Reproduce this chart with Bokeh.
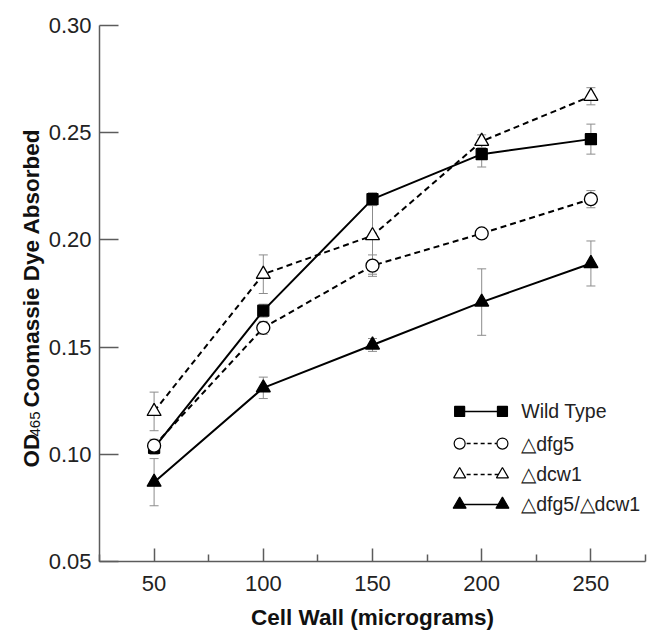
import math
from bokeh.plotting import figure
from bokeh.layouts import row
from bokeh.models import (Range1d, FixedTicker, Whisker, TeeHead, ColumnDataSource, Label,
                          CustomJSTickFormatter)
from bokeh.embed import file_html
from bokeh.resources import INLINE

# ---- data ----
cell_wall = [50, 100, 150, 200, 250]
wild_type = [0.103, 0.167, 0.219, 0.240, 0.247]
wild_type_err = [0.003, 0.003, 0.003, 0.006, 0.007]
dfg5 = [0.104, 0.159, 0.188, 0.203, 0.219]
dfg5_err = [0.003, 0.003, 0.005, 0.002, 0.004]
dcw1 = [0.120, 0.184, 0.202, 0.246, 0.267]
dcw1_err = [0.009, 0.009, 0.018, 0.003, 0.004]
dfg5_dcw1 = [0.087, 0.131, 0.151, 0.171, 0.189]
dfg5_dcw1_err = [0.011, 0.005, 0.003, 0.0155, 0.0105]

x_ticks = [50, 100, 150, 200, 250]
x_minor = [25, 75, 125, 175, 225, 275]
y_ticks = [0.05, 0.10, 0.15, 0.20, 0.25, 0.30]

legend_names = ["Wild Type", "\u25b3dfg5", "\u25b3dcw1", "\u25b3dfg5/\u25b3dcw1"]
y_label_parts = ["OD", "465", "Coomassie Dye Absorbed"]

FONT = "Liberation Sans"
W, H = 653, 638
STRIP = 45
TOP, BOTTOM = 25, 77
FRAME_BOTTOM = H - BOTTOM   # page y of the frame's bottom edge (frames are aligned in the row)

# ---- narrow strip holding the composed y-axis title ----
strip = figure(width=STRIP, height=H, output_backend="svg", toolbar_location=None,
               x_axis_type=None, y_axis_type=None, min_border=0,
               min_border_top=TOP, min_border_bottom=BOTTOM,
               x_range=Range1d(0, 1), y_range=Range1d(0, 1))
strip.outline_line_color = None
strip.grid.visible = False
ylab_common = dict(angle=math.pi / 2, text_font=FONT, text_color="#111111",
                   text_align="left", text_baseline="alphabetic",
                   x_units="screen", y_units="screen")
strip.add_layout(Label(x=31, y=FRAME_BOTTOM - 467, text=y_label_parts[0],
                       text_font_style="bold", text_font_size="22.5px", **ylab_common))
strip.add_layout(Label(x=34, y=FRAME_BOTTOM - 436, text=y_label_parts[1],
                       text_font_style="normal", text_font_size="15px", **ylab_common))
strip.add_layout(Label(x=31, y=FRAME_BOTTOM - 407, text=y_label_parts[2],
                       text_font_style="bold", text_font_size="22.5px", **ylab_common))

# ---- main plot ----
p = figure(width=W - STRIP, height=H, output_backend="svg", toolbar_location=None,
           x_range=Range1d(25, 275), y_range=Range1d(0.05, 0.30),
           min_border_left=96 - STRIP, min_border_right=8, min_border_top=TOP,
           min_border_bottom=BOTTOM)
p.outline_line_color = None
p.grid.visible = False
p.background_fill_color = "white"

AX = "#5c5c5c"
for ax in (p.xaxis[0], p.yaxis[0]):
    ax.axis_line_color = AX
    ax.axis_line_width = 1.5
    ax.major_tick_line_color = AX
    ax.minor_tick_line_color = AX
    ax.major_tick_line_width = 1.5
    ax.minor_tick_line_width = 1.5
    ax.major_label_text_font = FONT
    ax.major_label_text_font_size = "22px"
    ax.major_label_text_color = "#222222"
    ax.major_tick_out = 0
    ax.minor_tick_out = 0

p.xaxis.ticker = FixedTicker(ticks=x_ticks, minor_ticks=x_minor)
p.xaxis.major_tick_in = 13
p.xaxis.minor_tick_in = 7
p.xaxis.major_label_standoff = 14
p.xaxis.axis_label = "Cell Wall (micrograms)"
p.xaxis.axis_label_text_font = FONT
p.xaxis.axis_label_text_font_style = "bold"
p.xaxis.axis_label_text_font_size = "22.5px"
p.xaxis.axis_label_text_color = "#111111"
p.xaxis.axis_label_standoff = 11

p.yaxis.ticker = FixedTicker(ticks=y_ticks, minor_ticks=[])
p.yaxis.formatter = CustomJSTickFormatter(code="return tick.toFixed(2);")
p.yaxis.major_tick_in = 19
p.yaxis.minor_tick_in = 0
p.yaxis.major_label_standoff = 8

ERR = "#8c8c8c"
series = [
    ("dfg5_dcw1", dfg5_dcw1, dfg5_dcw1_err, "triangle", "black", "solid", 14),
    ("dcw1", dcw1, dcw1_err, "triangle", "white", "6 4", 14),
    ("wt", wild_type, wild_type_err, "square", "black", "solid", 11),
    ("dfg5", dfg5, dfg5_err, "circle", "white", "6 4", 13),
]

# error bars first
for name, ys, es, *_ in series:
    src = ColumnDataSource(dict(x=cell_wall,
                                lo=[a - b for a, b in zip(ys, es)],
                                hi=[a + b for a, b in zip(ys, es)]))
    w = Whisker(source=src, base="x", lower="lo", upper="hi",
                line_color=ERR, line_width=1,
                upper_head=TeeHead(size=9, line_color=ERR, line_width=1),
                lower_head=TeeHead(size=9, line_color=ERR, line_width=1))
    w.level = "underlay"
    p.add_layout(w)

for name, ys, es, marker, fill, dash, size in series:
    p.line(cell_wall, ys, line_color="black", line_width=2, line_dash=dash)
    p.scatter(cell_wall, ys, marker=marker, size=size, fill_color=fill,
              line_color="black", line_width=1.3)

# legend (drawn manually: marker - line - marker, then text)
leg_x0, leg_x1, leg_tx = 189.9, 209.5, 218.1
leg_rows = [0.1200, 0.1050, 0.0906, 0.0766]
leg_style = [("square", "black", "solid", 10), ("circle", "white", "4 3", 11),
             ("triangle", "white", "4 3", 12), ("triangle", "black", "solid", 13)]
for yv, (marker, fill, dash, size), name in zip(leg_rows, leg_style, legend_names):
    p.line([leg_x0, leg_x1], [yv, yv], line_color="black", line_width=1.5, line_dash=dash)
    p.scatter([leg_x0, leg_x1], [yv, yv], marker=marker, size=size, fill_color=fill,
              line_color="black", line_width=1.2)
    p.add_layout(Label(x=leg_tx, y=yv, text=name, text_font=FONT, text_font_size="19.5px",
                       text_color="#222222", text_baseline="middle", text_align="left"))

layout = row(strip, p, spacing=0)
open("out.html", "w").write(file_html(layout, INLINE))
